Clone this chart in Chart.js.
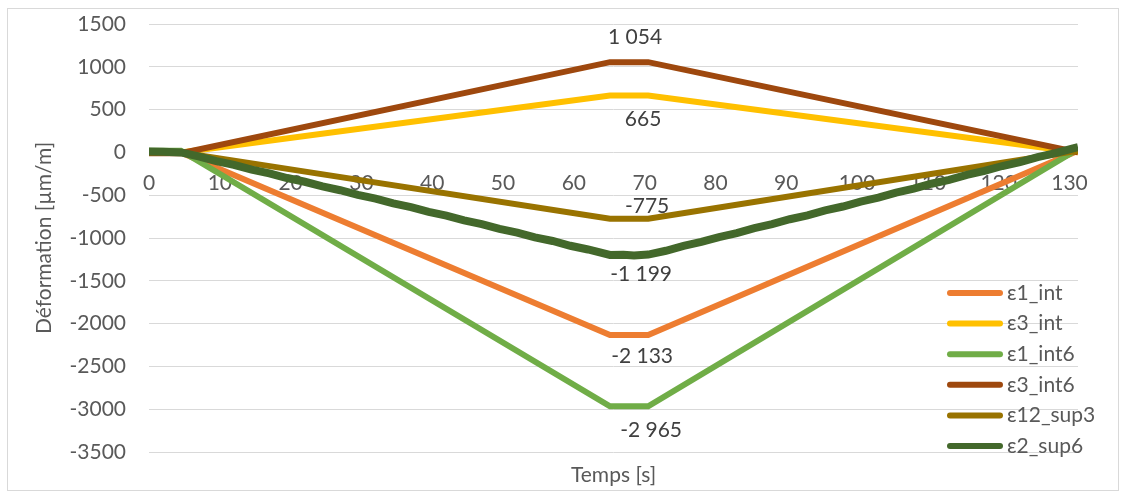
<!DOCTYPE html>
<html>
<head>
<meta charset="utf-8">
<script src="https://cdn.jsdelivr.net/npm/chart.js@4"></script>
<style>
  html, body { margin: 0; padding: 0; background: #fff; }
  #wrap { position: relative; width: 1125px; height: 497px; }
</style>
</head>
<body>
<div id="wrap"><canvas id="strainChart" width="1125" height="497"></canvas></div>
<script>
// time breakpoints shared by the smooth gauges [s]
const tKey = [0, 4.5, 65.1, 70.5, 131.2];

const eps1Int  = [0, 0, -2133, -2133, 20];
const eps3Int  = [0, 0, 665, 665, 0];
const eps1Int6 = [20, 20, -2965, -2965, 40];
const eps3Int6 = [-10, -10, 1054, 1054, 0];
const eps12Sup3 = [0, 0, -775, -775, 20];

// ε2_sup6 is noisy, so it has its own time base
const tSup6 = [0, 2, 4.5, 7, 9.5, 12, 14.5, 17, 19.5, 22, 24.5, 27, 29.5, 32, 34.5, 37, 39.5, 42, 44.5, 47, 49.5,
  52, 54.5, 57, 59.5, 62, 65.1, 67, 68.5, 70.5, 73, 75.5, 78, 80.5, 83, 85.5, 88, 90.5, 93, 95.5, 98, 100.5,
  103, 105.5, 108, 110.5, 113, 115.5, 118, 120.5, 123, 125.5, 128, 130.5, 131.2];
const eps2Sup6 = [10, 8, 0, -47, -102, -145, -201, -244, -299, -343, -398, -442, -497, -541, -596, -640, -695, -739, -794, -838, -893,
  -937, -992, -1035, -1091, -1134, -1198, -1195, -1203, -1194, -1149, -1092, -1046, -989, -943, -885, -839, -781, -736, -678, -632, -574,
  -528, -470, -424, -366, -321, -262, -217, -159, -113, -55, -9, 47, 60];

const seriesNames = ['ε1_int', 'ε3_int', 'ε1_int6', 'ε3_int6', 'ε12_sup3', 'ε2_sup6'];
const seriesColors = ['#ED7D31', '#FFC000', '#70AD47', '#9E480E', '#997300', '#43682B'];

const xTicks = [0, 10, 20, 30, 40, 50, 60, 70, 80, 90, 100, 110, 120, 130];
const yMin = -3500, yMax = 1500, yStep = 500;

// peak values shown as data labels
const peakValues = [1054, 665, -775, -1199, -2133, -2965];

function pts(xs, ys) {
    return xs.map((x, i) => ({ x: x, y: ys[i] }));
}

function frNumber(v) {
    const s = Math.abs(v).toString().replace(/\B(?=(\d{3})+(?!\d))/g, ' ');
    return (v < 0 ? '-' : '') + s;
}

const allData = [
    pts(tKey, eps1Int), pts(tKey, eps3Int), pts(tKey, eps1Int6),
    pts(tKey, eps3Int6), pts(tKey, eps12Sup3), pts(tSup6, eps2Sup6)
];

const FONT = 'Lato, "Open Sans", sans-serif';
const FSIZE = 21;
const TEXT = '#595959';

// label placement: anchor time, pixel offsets
const labelAnchorT = 67.8;
const labelShift = [[6, -25], [14, 24], [18, -13], [12, 19], [13, 21], [22, 24]];

const peakLabels = {
    id: 'peakLabels',
    afterDatasetsDraw(chart) {
        const c = chart.ctx, xs = chart.scales.x, ys = chart.scales.y;
        c.save();
        c.font = FSIZE + 'px ' + FONT;
        c.fillStyle = '#404040';
        c.textAlign = 'center';
        c.textBaseline = 'middle';
        peakValues.forEach((v, i) => {
            c.fillText(frNumber(v), xs.getPixelForValue(labelAnchorT) + labelShift[i][0],
                ys.getPixelForValue(v) + labelShift[i][1]);
        });
        c.restore();
    }
};

// legend sits over the plot area, like the spreadsheet one
const boxLegend = {
    id: 'boxLegend',
    afterDraw(chart) {
        const c = chart.ctx;
        c.save();
        c.font = FSIZE + 'px ' + FONT;
        c.textBaseline = 'middle';
        c.lineCap = 'round';
        chart.data.datasets.forEach((ds, i) => {
            const y = 293 + i * 30.6;
            c.strokeStyle = ds.borderColor;
            c.lineWidth = 6;
            c.beginPath();
            c.moveTo(950, y);
            c.lineTo(1000, y);
            c.stroke();
            c.fillStyle = TEXT;
            c.fillText(ds.label, 1007, y);
        });
        c.restore();
    }
};

const frame = {
    id: 'frame',
    beforeDraw(chart) {
        const c = chart.ctx;
        c.save();
        c.strokeStyle = '#d9d9d9';
        c.lineWidth = 1;
        c.strokeRect(7.5, 8.5, 1111, 482);
        c.restore();
    }
};

const ctx = document.getElementById('strainChart').getContext('2d');
new Chart(ctx, {
    type: 'line',
    data: {
        datasets: allData.map((d, i) => ({
            label: seriesNames[i],
            data: d,
            borderColor: seriesColors[i],
            backgroundColor: seriesColors[i],
            borderWidth: i === 5 ? 8 : 6,
            pointRadius: 0,
            fill: false,
            tension: 0,
            order: 10 - i
        }))
    },
    options: {
        responsive: false,
        animation: false,
        layout: { padding: { left: 0, top: 24, right: 47, bottom: 0 } },
        plugins: {
            legend: { display: false },
            tooltip: { enabled: false }
        },
        scales: {
            x: {
                type: 'linear',
                position: { y: 0 },
                min: 0,
                max: 131.2,
                afterBuildTicks: (scale) => { scale.ticks = xTicks.map(v => ({ value: v })); },
                grid: { display: false, drawTicks: false },
                border: { display: false },
                ticks: { color: TEXT, font: { family: FONT, size: FSIZE }, padding: 18, maxRotation: 0, autoSkip: false }
            },
            xTitle: {
                type: 'linear',
                axis: 'x',
                position: 'bottom',
                min: 0,
                max: 131.2,
                grid: { display: false, drawTicks: false },
                border: { display: false },
                ticks: { display: false },
                afterFit: (scale) => { scale.height = 45; },
                title: { display: true, text: 'Temps [s]', color: TEXT, font: { family: FONT, size: FSIZE }, padding: { top: 0, bottom: 9 } }
            },
            y: {
                type: 'linear',
                position: 'left',
                min: yMin,
                max: yMax,
                ticks: { stepSize: yStep, color: TEXT, font: { family: FONT, size: FSIZE }, padding: 23,
                    callback: (v) => String(v) },
                grid: { color: '#d9d9d9', lineWidth: 1, drawTicks: false },
                border: { display: false },
                afterFit: (scale) => {
                    scale.width = 149;
                    scale.paddingTop = 12;
                    scale.paddingBottom = 12;
                },
                title: { display: true, text: 'Déformation [µm/m]', color: TEXT, font: { family: FONT, size: FSIZE }, padding: { top: 32, bottom: 0 } }
            }
        }
    },
    plugins: [frame, peakLabels, boxLegend]
});
</script>
</body>
</html>
